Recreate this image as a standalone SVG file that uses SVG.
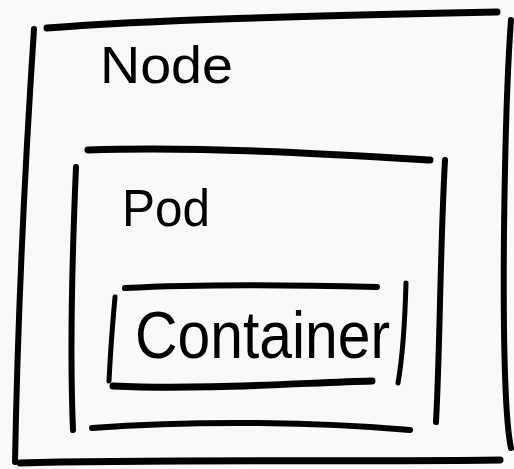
<svg xmlns="http://www.w3.org/2000/svg" width="514" height="469" viewBox="0 0 514 469">
<style>
.s{fill:none;stroke:#000;stroke-linecap:round;stroke-linejoin:round}
.t{font-family:"Liberation Sans","DejaVu Sans",sans-serif;fill:#000}
</style>
<rect width="514" height="469" fill="#f9f9f9"/>
<g id="node">
<path class="s" stroke-width="7" d="M47,28 C150,20 300,16 497,12"/>
<path class="s" stroke-width="6" d="M34,29 C26,150 18,300 15,462"/>
<path class="s" stroke-width="6" d="M511,20 C505,100 503,250 504,330 C505,400 507,430 511,448"/>
<path class="s" stroke-width="7" d="M20,463 C150,459 350,462 500,460"/>
<text class="t" x="100" y="83" font-size="52" textLength="133" lengthAdjust="spacingAndGlyphs">Node</text>
</g>
<g id="pod">
<path class="s" stroke-width="7" d="M88,150 C200,146 330,154 430,160"/>
<path class="s" stroke-width="6" d="M76,167 C72,260 70,360 73,430"/>
<path class="s" stroke-width="6" d="M445,160 C440,250 440,350 436,422"/>
<path class="s" stroke-width="6" d="M92,428 C200,420 320,422 410,430"/>
<text class="t" x="122" y="226" font-size="52" textLength="88" lengthAdjust="spacingAndGlyphs">Pod</text>
</g>
<g id="container">
<path class="s" stroke-width="6" d="M125,288 C200,284 300,285 377,287"/>
<path class="s" stroke-width="5" d="M115,297 C112,330 110,360 109,381"/>
<path class="s" stroke-width="5" d="M406,283 C405,320 402,360 398,383"/>
<path class="s" stroke-width="7" d="M113,386 C200,390 300,383 372,381"/>
<text class="t" x="135" y="358" font-size="67" textLength="255" lengthAdjust="spacingAndGlyphs">Container</text>
</g>
<g id="connectors"/>
</svg>
